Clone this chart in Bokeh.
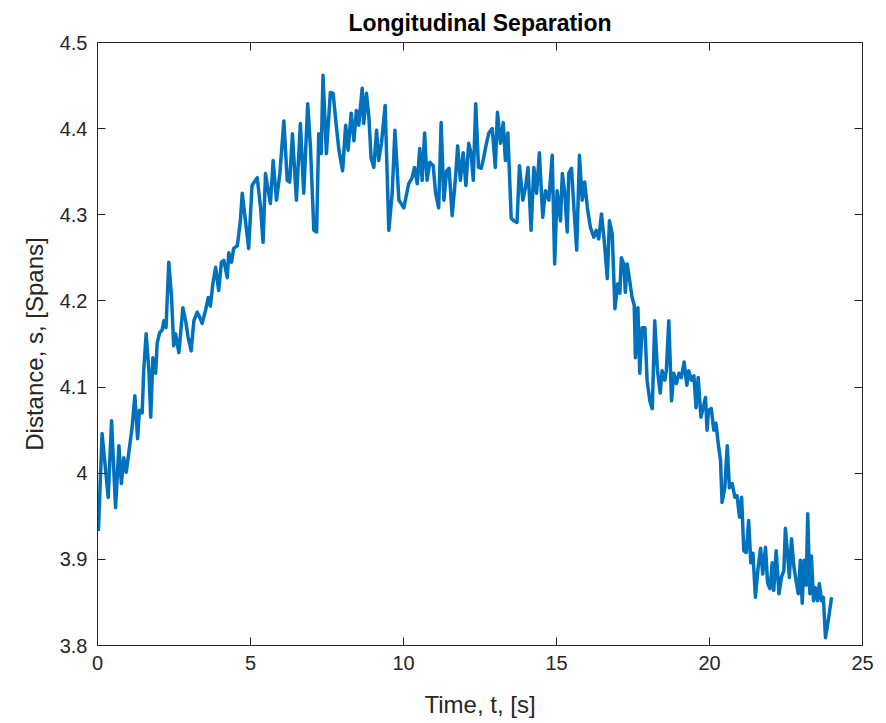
from bokeh.plotting import figure
from bokeh.models import LinearAxis, FixedTicker, Range1d, ColumnDataSource
from bokeh.embed import file_html
from bokeh.resources import INLINE

title_text = "Longitudinal Separation"
x_label = "Time, t, [s]"
y_label = "Distance, s, [Spans]"

x_ticks = [0, 5, 10, 15, 20, 25]
y_ticks = [3.8, 3.9, 4.0, 4.1, 4.2, 4.3, 4.4, 4.5]
y_tick_labels = ["3.8", "3.9", "4", "4.1", "4.2", "4.3", "4.4", "4.5"]

time_s = [
    0.03, 0.15, 0.35, 0.46, 0.59, 0.70, 0.78, 0.86, 0.94, 1.02, 1.13, 1.22, 1.31, 1.37, 1.46,
    1.51, 1.59, 1.68, 1.74, 1.81, 1.90, 1.95, 2.03, 2.11, 2.17, 2.24, 2.33, 2.42, 2.49, 2.55,
    2.66, 2.79, 2.88, 2.96, 3.06, 3.15, 3.26, 3.34, 3.42, 3.53, 3.62, 3.69, 3.77, 3.86, 3.96,
    4.05, 4.13, 4.24, 4.29, 4.38, 4.45, 4.57, 4.67, 4.73, 4.94, 5.05, 5.22, 5.33, 5.41, 5.49,
    5.65, 5.74, 5.85, 5.96, 6.09, 6.20, 6.28, 6.37, 6.50, 6.63, 6.74, 6.87, 6.96, 7.07, 7.16,
    7.23, 7.31, 7.37, 7.48, 7.61, 7.70, 7.81, 7.89, 8.01, 8.11, 8.19, 8.29, 8.38, 8.46, 8.54,
    8.65, 8.70, 8.79, 8.87, 8.94, 9.03, 9.12, 9.19, 9.28, 9.40, 9.52, 9.63, 9.72, 9.85, 10.01,
    10.17, 10.28, 10.36, 10.45, 10.53, 10.61, 10.69, 10.77, 10.86, 10.97, 11.05, 11.15, 11.23,
    11.32, 11.41, 11.49, 11.59, 11.70, 11.77, 11.86, 11.95, 12.04, 12.13, 12.21, 12.28, 12.36,
    12.45, 12.54, 12.62, 12.71, 12.79, 12.90, 13.00, 13.07, 13.17, 13.26, 13.33, 13.41, 13.52,
    13.60, 13.71, 13.79, 13.90, 13.99, 14.07, 14.17, 14.26, 14.35, 14.44, 14.55, 14.64, 14.75,
    14.86, 14.94, 15.02, 15.13, 15.19, 15.27, 15.35, 15.40, 15.49, 15.56, 15.66, 15.75, 15.84,
    15.92, 16.01, 16.11, 16.22, 16.30, 16.38, 16.47, 16.56, 16.66, 16.73, 16.82, 16.91, 17.00,
    17.07, 17.12, 17.20, 17.25, 17.31, 17.39, 17.47, 17.54, 17.58, 17.66, 17.72, 17.80, 17.89,
    17.96, 18.05, 18.13, 18.21, 18.30, 18.39, 18.45, 18.54, 18.59, 18.67, 18.76, 18.83, 18.92,
    19.00, 19.08, 19.17, 19.26, 19.32, 19.41, 19.49, 19.56, 19.63, 19.72, 19.87, 19.92, 19.97,
    20.06, 20.14, 20.21, 20.28, 20.36, 20.41, 20.50, 20.58, 20.65, 20.74, 20.83, 20.90, 20.98,
    21.05, 21.12, 21.20, 21.28, 21.35, 21.42, 21.50, 21.59, 21.67, 21.74, 21.83, 21.90, 21.98,
    22.05, 22.10, 22.18, 22.27, 22.35, 22.43, 22.48, 22.55, 22.61, 22.68, 22.76, 22.83, 22.90,
    22.97, 23.03, 23.09, 23.16, 23.21, 23.28, 23.33, 23.40, 23.46, 23.53, 23.59, 23.66, 23.72,
    23.79, 23.88, 23.99,
]

distance_spans = [
    3.933, 4.046, 3.972, 4.061, 3.960, 4.032, 3.988, 4.018, 4.001, 4.023, 4.053, 4.090, 4.040, 4.073, 4.070,
    4.119, 4.162, 4.119, 4.065, 4.134, 4.116, 4.151, 4.163, 4.166, 4.177, 4.169, 4.245, 4.204, 4.148, 4.162,
    4.140, 4.192, 4.177, 4.158, 4.142, 4.177, 4.187, 4.181, 4.174, 4.189, 4.204, 4.194, 4.220, 4.239, 4.212,
    4.245, 4.247, 4.227, 4.256, 4.245, 4.261, 4.264, 4.293, 4.325, 4.261, 4.334, 4.343, 4.308, 4.268, 4.348,
    4.313, 4.363, 4.317, 4.348, 4.409, 4.340, 4.338, 4.394, 4.317, 4.406, 4.325, 4.429, 4.378, 4.282, 4.280,
    4.394, 4.371, 4.462, 4.371, 4.442, 4.441, 4.401, 4.375, 4.351, 4.404, 4.375, 4.418, 4.386, 4.421, 4.404,
    4.447, 4.406, 4.441, 4.413, 4.366, 4.355, 4.398, 4.363, 4.383, 4.427, 4.282, 4.325, 4.398, 4.317, 4.308,
    4.336, 4.343, 4.355, 4.336, 4.377, 4.340, 4.395, 4.340, 4.361, 4.357, 4.325, 4.308, 4.407,
    4.317, 4.351, 4.354, 4.299, 4.343, 4.380, 4.340, 4.372, 4.334, 4.383, 4.371, 4.340, 4.429,
    4.355, 4.354, 4.366, 4.383, 4.395, 4.400, 4.355, 4.419, 4.383, 4.407, 4.363, 4.395, 4.296,
    4.293, 4.291, 4.357, 4.317, 4.332, 4.355, 4.282, 4.355, 4.325, 4.372, 4.297, 4.328, 4.317,
    4.369, 4.243, 4.328, 4.293, 4.348, 4.325, 4.280, 4.348, 4.354, 4.313, 4.259, 4.369, 4.317,
    4.338, 4.308, 4.285, 4.274, 4.282, 4.272, 4.301, 4.270, 4.226, 4.293, 4.278, 4.191, 4.220,
    4.209, 4.250, 4.243, 4.210, 4.243, 4.224, 4.204, 4.195, 4.134, 4.192, 4.116, 4.169, 4.169,
    4.108, 4.084, 4.075, 4.177, 4.119, 4.093, 4.119, 4.108, 4.119, 4.177, 4.084, 4.116, 4.104,
    4.116, 4.111, 4.129, 4.102, 4.119, 4.108, 4.113, 4.076, 4.111, 4.065, 4.088, 4.050, 4.073,
    4.075, 4.050, 4.058, 4.036, 4.015, 3.966, 3.983, 4.032, 3.983, 3.988, 3.972, 3.974, 3.949,
    3.972, 3.910, 3.908, 3.945, 3.896, 3.907, 3.856, 3.891, 3.913, 3.883, 3.914, 3.872, 3.866,
    3.896, 3.864, 3.910, 3.860, 3.879, 3.887, 3.936, 3.907, 3.879, 3.924, 3.891, 3.875, 3.860,
    3.899, 3.849, 3.899, 3.870, 3.953, 3.860, 3.904, 3.852, 3.867, 3.852, 3.872, 3.852, 3.856,
    3.809, 3.829, 3.856,
]

AX = "#262626"
FONT = "Liberation Sans"

src = ColumnDataSource(data=dict(t=time_s, s=distance_spans))

p = figure(
    width=886, height=723,
    x_range=Range1d(0, 25), y_range=Range1d(3.8, 4.5),
    output_backend="svg", toolbar_location=None,
    min_border_left=97, min_border_right=24, min_border_top=42, min_border_bottom=78,
    background_fill_color="white", border_fill_color="white",
)
p.line("t", "s", source=src, line_color="#0072BD", line_width=3.5, line_join="round")

p.xgrid.visible = False
p.ygrid.visible = False
p.outline_line_color = AX
p.outline_line_width = 1

p.title.text = title_text
p.title.align = "center"
p.title.text_font = FONT
p.title.text_font_style = "bold"
p.title.text_font_size = "23px"
p.title.text_color = "black"
p.title.standoff = 14


def style_axis(ax, show_labels):
    ax.axis_line_color = AX
    ax.major_tick_line_color = AX
    ax.major_tick_in = 8
    ax.major_tick_out = 0
    ax.minor_tick_line_color = None
    ax.major_label_text_color = AX
    ax.major_label_text_font = FONT
    ax.axis_label_text_font = FONT
    ax.axis_label_text_color = AX
    ax.axis_label_text_font_style = "normal"
    if not show_labels:
        ax.major_label_text_font_size = "1px"
        ax.major_label_standoff = 0


xa = p.xaxis[0]
ya = p.yaxis[0]
xa.ticker = FixedTicker(ticks=x_ticks)
ya.ticker = FixedTicker(ticks=y_ticks)
ya.major_label_overrides = {v: lab for v, lab in zip(y_ticks, y_tick_labels)}
style_axis(xa, True)
style_axis(ya, True)
xa.axis_label = x_label
ya.axis_label = y_label
xa.major_label_text_font_size = "20px"
ya.major_label_text_font_size = "20px"
xa.axis_label_text_font_size = "24px"
ya.axis_label_text_font_size = "24px"
xa.major_label_standoff = 10
ya.major_label_standoff = 10
xa.axis_label_standoff = 18
ya.axis_label_standoff = 9

top = LinearAxis(ticker=FixedTicker(ticks=x_ticks))
right = LinearAxis(ticker=FixedTicker(ticks=y_ticks))
style_axis(top, False)
style_axis(right, False)
top.major_label_overrides = {v: "" for v in x_ticks}
right.major_label_overrides = {v: "" for v in y_ticks}
p.add_layout(top, "above")
p.add_layout(right, "right")

open("out.html", "w").write(file_html(p, INLINE))
